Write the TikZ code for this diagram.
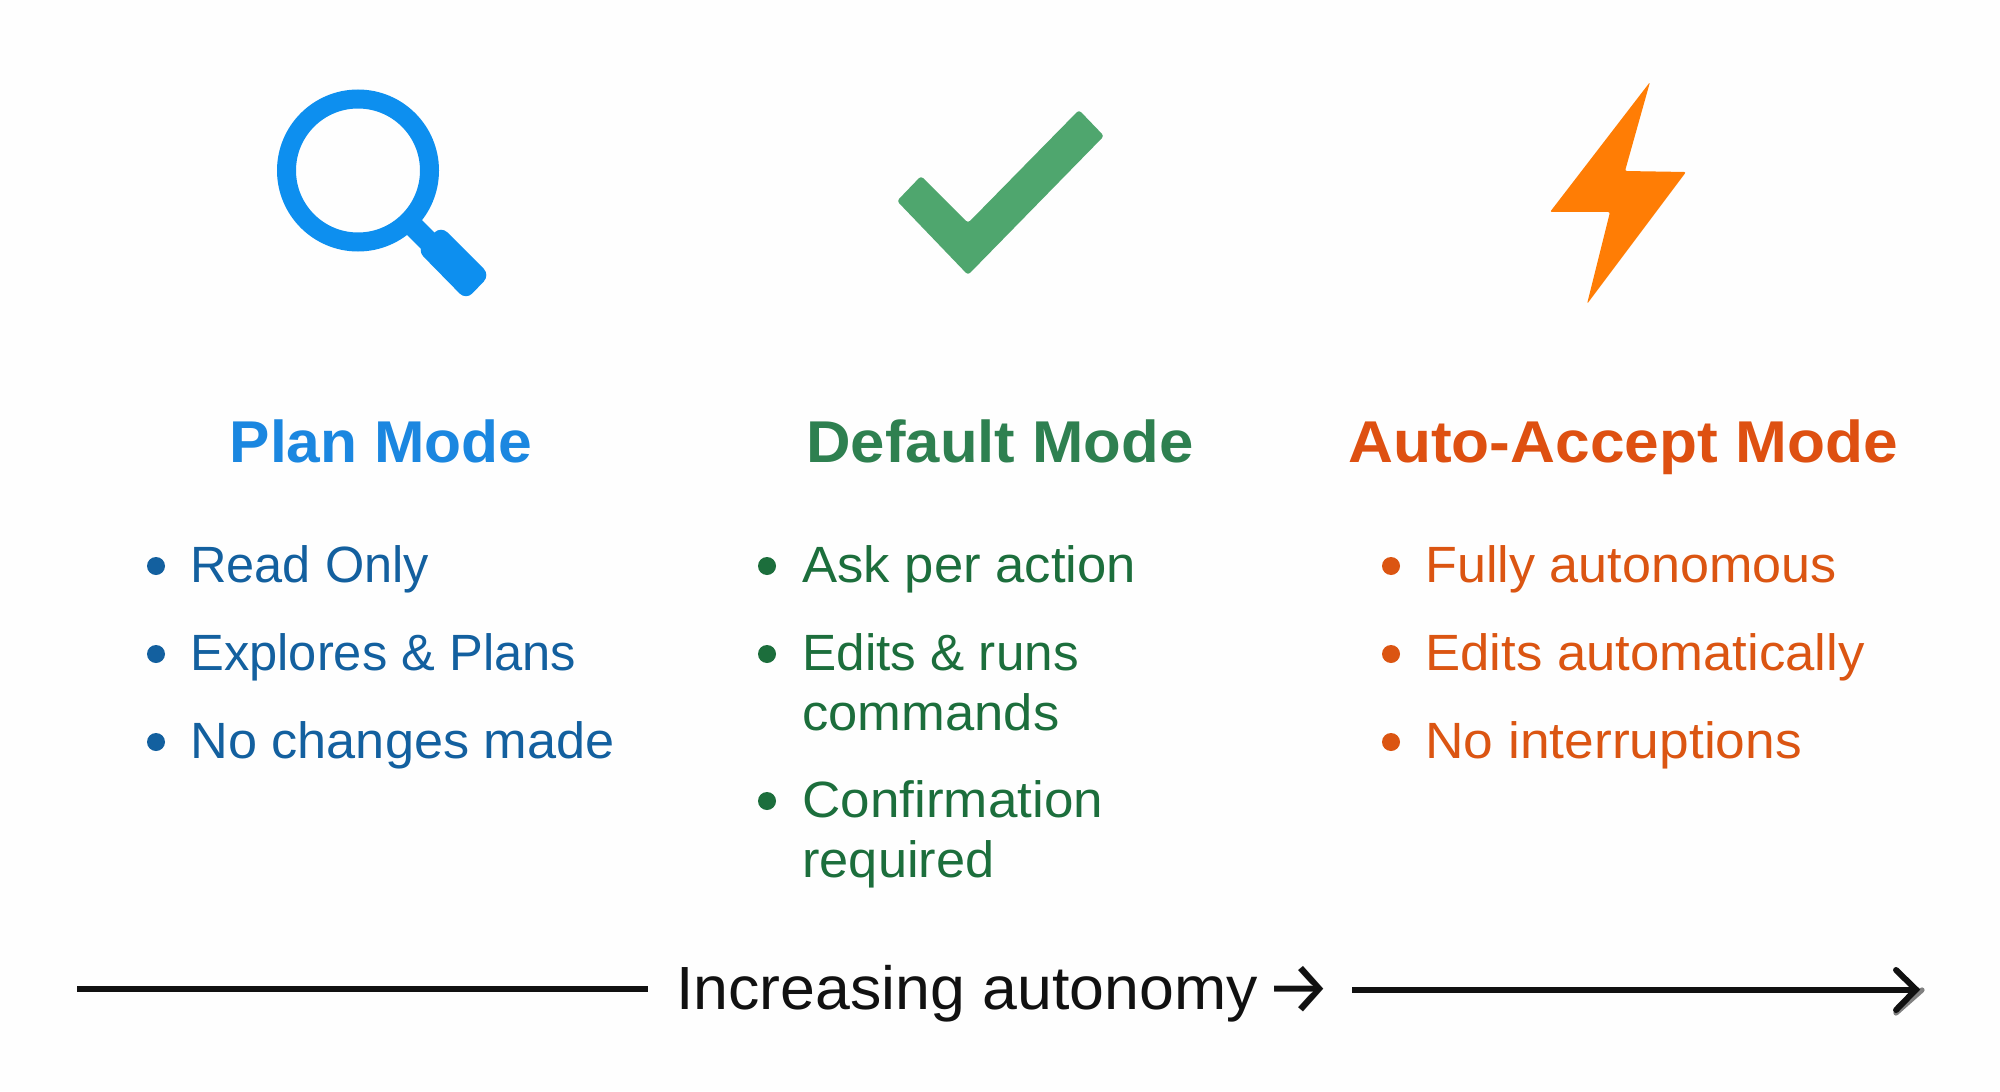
\documentclass[tikz,border=0pt]{standalone}
\usepackage{fontspec}
\setmainfont{Liberation Sans}
\newfontfamily\arrowfont{Fira Sans}
\definecolor{bgc}{HTML}{FEFEFE}
\definecolor{blueicon}{HTML}{0D8FEF}
\definecolor{bluetitle}{HTML}{1B87E0}
\definecolor{bluetext}{HTML}{13609F}
\definecolor{greenicon}{HTML}{4FA66E}
\definecolor{greentitle}{HTML}{2E8050}
\definecolor{greentext}{HTML}{1C6E3C}
\definecolor{orangeicon}{HTML}{FF7D05}
\definecolor{orangetitle}{HTML}{DE5011}
\definecolor{orangetext}{HTML}{DB5512}
\definecolor{axisc}{HTML}{111111}
\tikzset{
  titlenode/.style={anchor=base,inner sep=0pt,font=\fontsize{29.5}{36}\selectfont\bfseries},
  itemnode/.style={anchor=base west,inner sep=0pt,font=\fontsize{25.5}{30}\selectfont},
  dotmark/.style={circle,inner sep=0pt,minimum size=9pt},
  axisline/.style={axisc,line width=3pt},
  widen/.style={xscale=#1,transform shape},
}
\begin{document}
\begin{tikzpicture}[x=0.5pt,y=-0.5pt]
\useasboundingbox (0,0) rectangle (2000,1091);
\fill[bgc] (0,0) rectangle (2000,1091);
% magnifier
\draw[blueicon,line width=9.5pt] (358,170.5) circle [radius=71.5];
\draw[blueicon,line width=10.5pt] (412,225) -- (435,248);
\fill[blueicon,rounded corners=4.5pt] (441,226) -- (490,275) -- (466,300) -- (417,250) -- cycle;
% check
\fill[greenicon,rounded corners=1.5pt] (1079,110) -- (1104,136) -- (968,275) -- (897,201) -- (921,176) -- (968,223) -- cycle;
% bolt
\fill[orangeicon,rounded corners=1pt] (1650,82) -- (1625,171) -- (1686,172) -- (1587,304) -- (1610,212) -- (1550,212) -- cycle;
% titles
\node[titlenode,text=bluetitle,widen=1.026] (t1) at (381,462) {Plan Mode};
\node[titlenode,text=greentitle,widen=1.045] (t2) at (1000,462) {Default Mode};
\node[titlenode,text=orangetitle,widen=1.054] (t3) at (1623,462) {Auto-Accept Mode};
% column 1
\foreach \n/\y in {a/566,b/654,c/742}{\node[dotmark,fill=bluetext] (d1\n) at (156,\y) {};}
\node[itemnode,text=bluetext,widen=0.99] (i1a) at (190,582) {Read Only};
\node[itemnode,text=bluetext,widen=0.993] (i1b) at (190,670) {Explores \& Plans};
\node[itemnode,text=bluetext,widen=1.025] (i1c) at (190,758) {No changes made};
% column 2
\foreach \n/\y in {a/566,b/654,c/801}{\node[dotmark,fill=greentext] (d2\n) at (767,\y) {};}
\node[itemnode,text=greentext,widen=1.032] (i2a) at (802,582) {Ask per action};
\node[itemnode,text=greentext,widen=1.005] (i2b) at (802,670) {Edits \& runs};
\node[itemnode,text=greentext,widen=1.03] (i2bb) at (802,730) {commands};
\node[itemnode,text=greentext,widen=1.04] (i2c) at (802,817) {Confirmation};
\node[itemnode,text=greentext,widen=1.027] (i2cc) at (802,877) {required};
% column 3
\foreach \n/\y in {a/566,b/654,c/742}{\node[dotmark,fill=orangetext] (d3\n) at (1391,\y) {};}
\node[itemnode,text=orangetext,widen=1.022] (i3a) at (1425,582) {Fully autonomous};
\node[itemnode,text=orangetext,widen=1.033] (i3b) at (1425,670) {Edits automatically};
\node[itemnode,text=orangetext,widen=1.046] (i3c) at (1425,758) {No interruptions};
% axis
\coordinate (axstart) at (77,989);
\coordinate (axgapl) at (648,989);
\coordinate (axgapr) at (1352,989.5);
\coordinate (axend) at (1916,989.5);
\coordinate (axbarbt) at (1896,970);
\coordinate (axbarbb) at (1896,1010);
\coordinate (axtip) at (1922,990);
\coordinate (axshadow) at (1896,1013);
\node[anchor=base west,inner sep=0pt,text=axisc,font=\fontsize{30.5}{36}\selectfont,widen=1.027] (axl) at (676,1009) {Increasing autonomy};
\node[anchor=base,inner sep=0pt,text=axisc,font=\arrowfont\fontsize{37}{37}\selectfont] (axa) at (1299,1013) {→};
\draw[axisline] (axstart) -- (axgapl);
\draw[axisline] (axgapr) -- (axend);
\draw[gray,line width=2.6pt,line cap=round,line join=miter] (axtip) -- (axshadow);
\draw[axisline,line cap=round,line join=miter] (axbarbt) -- (axend) -- (axbarbb);
\end{tikzpicture}
\end{document}
